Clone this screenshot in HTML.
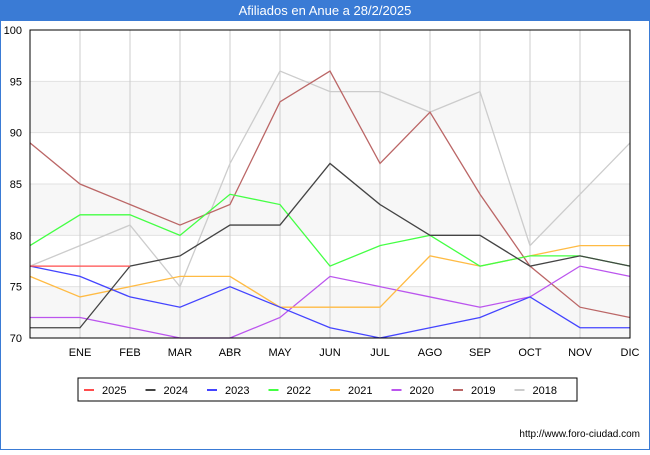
<!DOCTYPE html>
<html><head><meta charset="utf-8"><style>
body{margin:0;width:650px;height:450px;overflow:hidden;font-family:"Liberation Sans",sans-serif;}
</style></head><body>
<svg width="650" height="450" id="svg" font-family="Liberation Sans, DejaVu Sans, sans-serif">
<rect x="0" y="0" width="650" height="450" fill="#fff" stroke="#3a7bd5" stroke-width="2"/>
<rect x="0" y="0" width="650" height="21" fill="#3a7bd5"/>
<text x="325" y="15" text-anchor="middle" fill="#fff" font-size="13">Afiliados en Anue a 28/2/2025</text>
<g id="grid"></g><g id="lines"></g><g id="axes"></g>
<rect x="78" y="378" width="499" height="23" fill="#fff" stroke="#000"/>
<g id="legend"></g>
<text x="640" y="437" text-anchor="end" font-size="10" fill="#000">http://www.foro-ciudad.com</text>
</svg>
<script>
const months=["","ENE","FEB","MAR","ABR","MAY","JUN","JUL","AGO","SEP","OCT","NOV","DIC"];
const yTicks=[70,75,80,85,90,95,100];
const seriesNames=["2025","2024","2023","2022","2021","2020","2019","2018"];
const colors=["#ff4d4d","#444444","#4444ff","#44ff44","#ffbb44","#bb55ee","#bb6666","#cccccc"];
const s2025=[77,77,77];
const s2024=[71,71,77,78,81,81,87,83,80,80,77,78,77];
const s2023=[77,76,74,73,75,73,71,70,71,72,74,71,71];
const s2022=[79,82,82,80,84,83,77,79,80,77,78,78,77];
const s2021=[76,74,75,76,76,73,73,73,78,77,78,79,79];
const s2020=[72,72,71,70,70,72,76,75,74,73,74,77,76];
const s2019=[89,85,83,81,83,93,96,87,92,84,77,73,72];
const s2018=[77,79,81,75,87,96,94,94,92,94,79,84,89];
const data=[s2025,s2024,s2023,s2022,s2021,s2020,s2019,s2018];
const NS="http://www.w3.org/2000/svg";
const L=30,R=630,T=30,B=338,ymin=70,ymax=100;
const x=i=>L+i*(R-L)/12, y=v=>B-(v-ymin)*(B-T)/(ymax-ymin);
function mk(p,t,a){const e=document.createElementNS(NS,t);for(const k in a)e.setAttribute(k,a[k]);p.appendChild(e);return e;}
const grid=document.getElementById('grid'),lines=document.getElementById('lines'),axes=document.getElementById('axes'),leg=document.getElementById('legend');
for(let v=70;v<100;v+=10){const b=mk(grid,'rect',{x:L,y:y(v+5),width:R-L,height:y(v)-y(v+5),fill:'#f7f7f7'});
}
yTicks.forEach(v=>{const g=mk(grid,'line',{x1:L,x2:R,y1:y(v),y2:y(v),stroke:'#e2e2e2'});

const t=mk(axes,'text',{x:L-8,y:y(v)+4,'text-anchor':'end','font-size':11});t.textContent=v;
});
months.forEach((m,i)=>{if(i===0)return;const g=mk(grid,'line',{x1:x(i),x2:x(i),y1:T,y2:B,stroke:'#cccccc'});

const t=mk(axes,'text',{x:x(i),y:B+18,'text-anchor':'middle','font-size':11});t.textContent=m;
});
const ax=mk(axes,'rect',{x:L,y:T,width:R-L,height:B-T,fill:'none',stroke:'#000'});

for(let k=data.length-1;k>=0;k--){const pts=data[k].map((v,i)=>x(i)+','+y(v)).join(' ');
const p=mk(lines,'polyline',{points:pts,fill:'none',stroke:colors[k],'stroke-width':1.3});
}
seriesNames.forEach((n,k)=>{const lx=84+k*61.5;
const l=mk(leg,'line',{x1:lx,x2:lx+10,y1:390,y2:390,stroke:colors[k],'stroke-width':2});

const t=mk(leg,'text',{x:lx+18,y:394,'font-size':11});t.textContent=n;
});
</script>
</body></html>
